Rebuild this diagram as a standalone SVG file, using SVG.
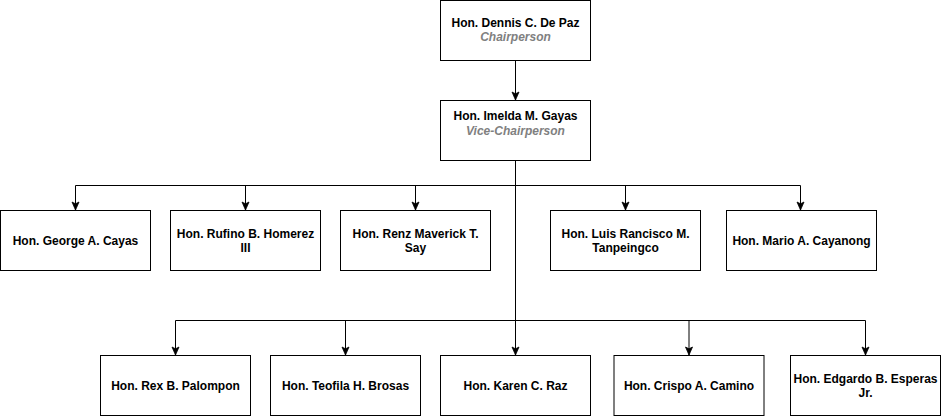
<svg xmlns="http://www.w3.org/2000/svg" width="941" height="416" viewBox="0 0 941 416">
<style>
.box{fill:#fff;stroke:#000;stroke-width:1}
.t{font-family:"Liberation Sans",Arial,sans-serif;font-size:12px;font-weight:bold;fill:#000;text-anchor:middle}
.s{font-family:"Liberation Sans",Arial,sans-serif;font-size:12px;font-weight:bold;font-style:italic;fill:#808080;text-anchor:middle}
.c{fill:none;stroke:#000;stroke-width:1}
</style>
<defs>
<marker id="arrd" markerWidth="9" markerHeight="10" viewBox="-4.5 -9 9 10" refX="0" refY="0" orient="0" markerUnits="userSpaceOnUse">
<path d="M-3.5,-8 L0,0 L3.5,-8 L0,-6.2 Z" fill="#000" stroke="#000" stroke-width="0.8"/>
</marker>
</defs>
<g id="connectors">
<path class="c" d="M515.5,60 V100" marker-end="url(#arrd)"/>
<path class="c" d="M515.5,160 V185.5 H75.5 V210" marker-end="url(#arrd)"/>
<path class="c" d="M245.5,185.5 V210" marker-end="url(#arrd)"/>
<path class="c" d="M415.5,185.5 V210" marker-end="url(#arrd)"/>
<path class="c" d="M515.5,185.5 H800.5 V210" marker-end="url(#arrd)"/>
<path class="c" d="M625.5,185.5 V210" marker-end="url(#arrd)"/>
<path class="c" d="M515.5,185 V355" marker-end="url(#arrd)"/>
<path class="c" d="M515.5,320.5 H175.5 V355" marker-end="url(#arrd)"/>
<path class="c" d="M345.5,320.5 V355" marker-end="url(#arrd)"/>
<path class="c" d="M515.5,320.5 H865.5 V355" marker-end="url(#arrd)"/>
<path class="c" d="M689,320.5 V355" marker-end="url(#arrd)"/>
</g>
<g id="n1"><rect class="box" x="440.5" y="0.5" width="150" height="60"/><text class="t" x="515.5" y="27">Hon. Dennis C. De Paz</text><text class="s" x="515.5" y="41">Chairperson</text></g>
<g id="n2"><rect class="box" x="440.5" y="100.5" width="150" height="60"/><text class="t" x="515.5" y="120">Hon. Imelda M. Gayas</text><text class="s" x="515.5" y="135">Vice-Chairperson</text></g>
<g id="n3"><rect class="box" x="0.5" y="210.5" width="150" height="60"/><text class="t" x="75.5" y="245">Hon. George A. Cayas</text></g>
<g id="n4"><rect class="box" x="170.5" y="210.5" width="150" height="60"/><text class="t" x="245.5" y="238">Hon. Rufino B. Homerez</text><text class="t" x="245.5" y="252">III</text></g>
<g id="n5"><rect class="box" x="340.5" y="210.5" width="150" height="60"/><text class="t" x="415.5" y="238">Hon. Renz Maverick T.</text><text class="t" x="415.5" y="252">Say</text></g>
<g id="n6"><rect class="box" x="550.5" y="210.5" width="150" height="60"/><text class="t" x="625.5" y="238">Hon. Luis Rancisco M.</text><text class="t" x="625.5" y="252">Tanpeingco</text></g>
<g id="n7"><rect class="box" x="726.5" y="210.5" width="150" height="60"/><text class="t" x="801.5" y="245">Hon. Mario A. Cayanong</text></g>
<g id="n8"><rect class="box" x="100.5" y="355.5" width="150" height="60"/><text class="t" x="175.5" y="390">Hon. Rex B. Palompon</text></g>
<g id="n9"><rect class="box" x="270.5" y="355.5" width="150" height="60"/><text class="t" x="345.5" y="390">Hon. Teofila H. Brosas</text></g>
<g id="n10"><rect class="box" x="440.5" y="355.5" width="150" height="60"/><text class="t" x="515.5" y="390">Hon. Karen C. Raz</text></g>
<g id="n11"><rect class="box" x="614" y="355.5" width="150" height="60"/><text class="t" x="689" y="390">Hon. Crispo A. Camino</text></g>
<g id="n12"><rect class="box" x="790.5" y="355.5" width="150" height="60"/><text class="t" x="865.5" y="383">Hon. Edgardo B. Esperas</text><text class="t" x="865.5" y="397">Jr.</text></g>
</svg>
